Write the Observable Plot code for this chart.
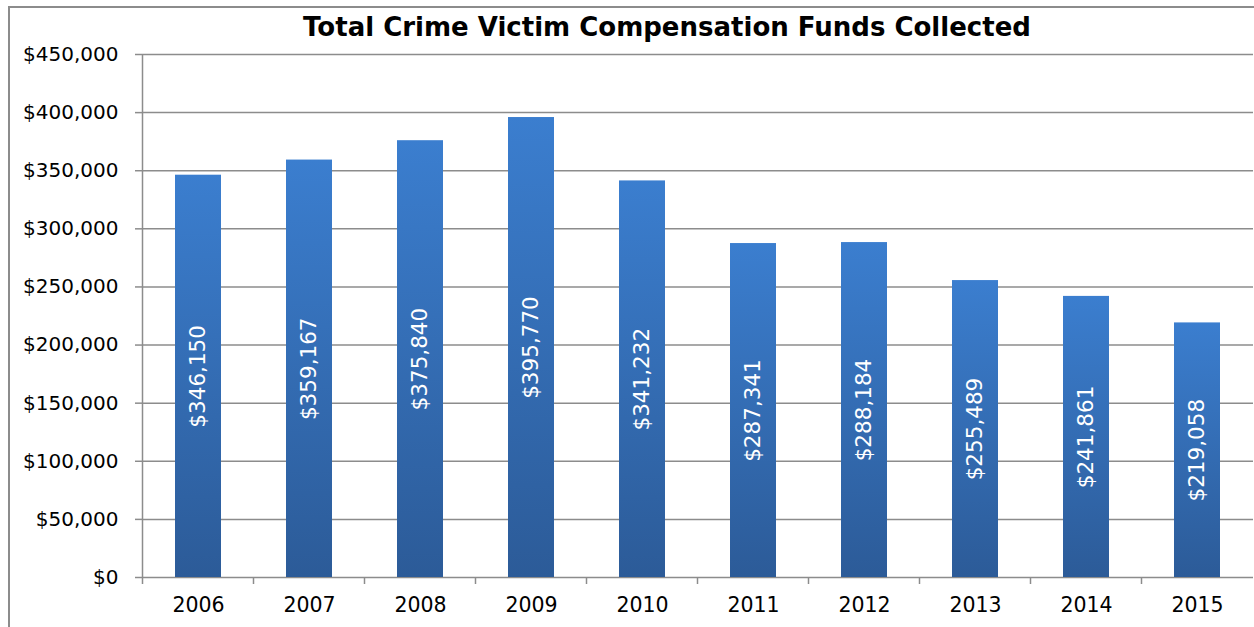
<!DOCTYPE html>
<html>
<head>
<meta charset="utf-8">
<script src="https://cdn.jsdelivr.net/npm/d3@7"></script>
<script src="https://cdn.jsdelivr.net/npm/@observablehq/plot@0.6"></script>
<style>
  html, body { margin: 0; padding: 0; background: #fff; overflow: hidden; }
  #wrap { position: relative; width: 1254px; height: 627px; font-family: "DejaVu Sans", Verdana, sans-serif; }
  #frame { position: absolute; left: 8px; top: 6px; width: 1400px; height: 800px; border: 2px solid #8c8c8c; box-sizing: border-box; pointer-events: none; }
  #title { position: absolute; left: 0; top: 12px; width: 1334px; text-align: center; font-weight: bold; font-size: 26px; line-height: 30px; color: #000; }
  #chart { position: absolute; left: 0; top: 42px; }
</style>
</head>
<body>
<div id="wrap">
  <div id="frame"></div>
  <div id="title">Total Crime Victim Compensation Funds Collected</div>
  <div id="chart"></div>
</div>
<script>
const years = ["2006", "2007", "2008", "2009", "2010", "2011", "2012", "2013", "2014", "2015"];
const funds = [346150, 359167, 375840, 395770, 341232, 287341, 288184, 255489, 241861, 219058];
const yTicks = [0, 50000, 100000, 150000, 200000, 250000, 300000, 350000, 400000, 450000];

const data = years.map((y, i) => ({year: y, value: funds[i]}));
const fmt = d => "$" + d3.format(",")(d);

const W = 1254, H = 585, ML = 143, MR = 1, MT = 12, MB = 50;

function defs() {
  const ns = "http://www.w3.org/2000/svg";
  const d = document.createElementNS(ns, "defs");
  d.innerHTML = `
    <linearGradient id="barGrad" x1="0" y1="0" x2="0" y2="1">
      <stop offset="0" stop-color="#3b7ecf"/>
      <stop offset="1" stop-color="#2c5b98"/>
    </linearGradient>
    <filter id="shadow" x="-20%" y="-5%" width="140%" height="110%">
      <feDropShadow dx="0" dy="0" stdDeviation="2" flood-color="#000" flood-opacity="0.22"/>
    </filter>`;
  return d;
}

// band-boundary ticks below the x axis, plus the vertical axis line, from the scales
function xBoundaryTicks(index, scales) {
  const ns = "http://www.w3.org/2000/svg";
  const g = document.createElementNS(ns, "g");
  const x = scales.x, y = scales.y;
  const step = x.step(), bw = x.bandwidth();
  const y0 = y(0), yTop = y(450000);
  years.forEach((yr, i) => {
    const bx = x(yr) + bw / 2 - step / 2;
    const l = document.createElementNS(ns, "line");
    l.setAttribute("x1", bx); l.setAttribute("x2", bx);
    l.setAttribute("y1", i === 0 ? yTop : y0); l.setAttribute("y2", y0 + 7);
    l.setAttribute("stroke", "#8c8c8c"); l.setAttribute("stroke-width", 1.5);
    g.appendChild(l);
  });
  return g;
}

const chart = Plot.plot({
  width: W,
  height: H,
  marginLeft: ML,
  marginRight: MR,
  marginTop: MT,
  marginBottom: MB,
  style: {fontFamily: "'DejaVu Sans', Verdana, sans-serif", fontSize: "20px", color: "#000", background: "transparent"},
  x: {domain: years, paddingInner: 0.585, paddingOuter: 0.2925, label: null},
  y: {domain: [0, 450000], label: null},
  marks: [
    defs,
    Plot.ruleY(yTicks, {stroke: "#8c8c8c", strokeWidth: 1.5}),
    Plot.barY(data, {x: "year", y: "value", fill: "url(#barGrad)", style: {filter: "url(#shadow)"}}),
    Plot.text(data, {x: "year", y: d => d.value / 2, text: d => fmt(d.value), rotate: -90, fill: "white", fontSize: 21.5}),
    Plot.axisY({ticks: yTicks, tickFormat: fmt, tickSize: 8, tickPadding: 17, stroke: "#8c8c8c", strokeWidth: 1.5, fontSize: 20, color: "#000"}),
    Plot.axisX({tickSize: 0, tickPadding: 20, fontSize: 20.5}),
    xBoundaryTicks
  ]
});
document.getElementById("chart").appendChild(chart);
</script>
</body>
</html>
